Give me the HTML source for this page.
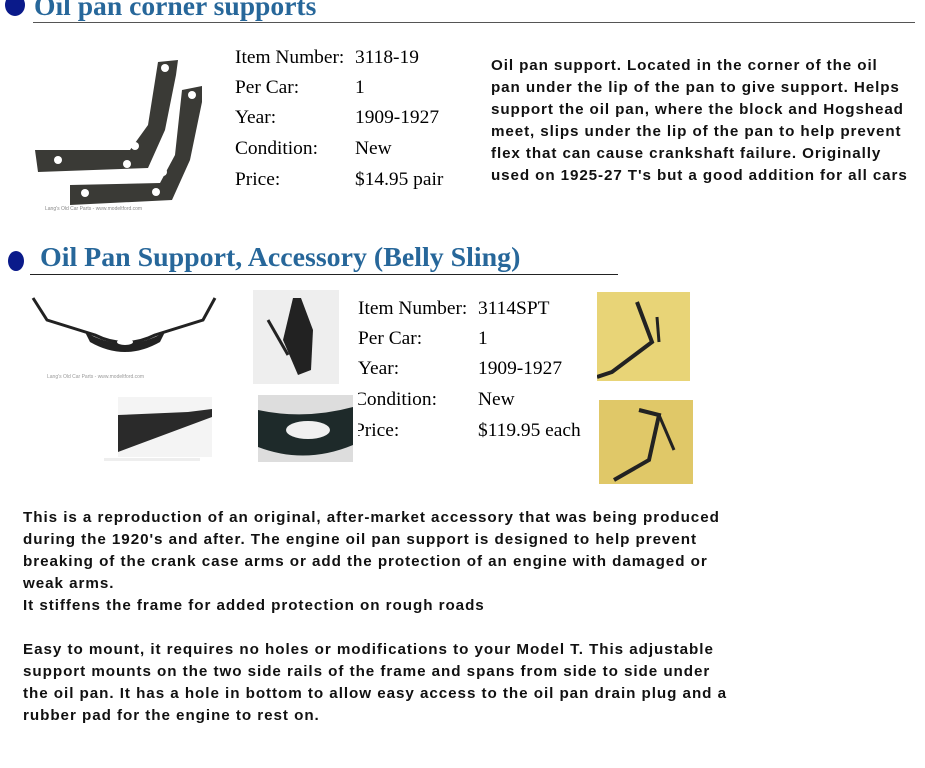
<!DOCTYPE html>
<html><head><meta charset="utf-8"><style>
body{margin:0;width:925px;height:768px;background:#fff;position:relative;overflow:hidden;font-family:"Liberation Sans",sans-serif}
.a{position:absolute;white-space:nowrap}
.t{font-family:"Liberation Serif",serif;font-weight:bold;color:#27679a}
.s{font-family:"Liberation Serif",serif;font-size:19.4px;color:#000}
.p{font-weight:bold;font-size:15.2px;letter-spacing:0.95px;line-height:22px;color:#111}
.dot{position:absolute;border-radius:50%;background:#0a1a8a}
</style></head><body>
<div class="dot" style="left:5px;top:-6px;width:20px;height:22px"></div>
<div class="a t" style="left:34px;top:-10px;font-size:27.6px">Oil pan corner supports</div>
<div class="a" style="left:33px;top:22px;width:882px;height:1px;background:#555"></div>

<svg class="a" style="left:30px;top:50px" width="185" height="165">
<path d="M5 100 L100 100 L118 75 L128 12 L148 10 L146 25 L135 80 L118 118 L8 122Z" fill="#3a3a36"/>
<path d="M40 135 L130 133 L145 105 L152 40 L172 36 L172 52 L160 110 L142 150 L40 155Z" fill="#3a3a36"/>
<circle cx="135" cy="18" r="4" fill="#fff"/><circle cx="162" cy="45" r="4" fill="#fff"/>
<circle cx="105" cy="96" r="4" fill="#fff"/><circle cx="97" cy="114" r="4" fill="#fff"/><circle cx="28" cy="110" r="4" fill="#fff"/>
<circle cx="133" cy="122" r="4" fill="#fff"/><circle cx="126" cy="142" r="4" fill="#fff"/><circle cx="55" cy="143" r="4" fill="#fff"/>
<text x="15" y="160" font-size="5" fill="#888" font-family="Liberation Sans">Lang's Old Car Parts - www.modeltford.com</text>
</svg>

<div class="a s" style="left:235px;top:47px">Item Number:</div><div class="a s" style="left:355px;top:47px">3118-19</div>
<div class="a s" style="left:235px;top:77px">Per Car:</div><div class="a s" style="left:355px;top:77px">1</div>
<div class="a s" style="left:235px;top:107px">Year:</div><div class="a s" style="left:355px;top:107px">1909-1927</div>
<div class="a s" style="left:235px;top:138px">Condition:</div><div class="a s" style="left:355px;top:138px">New</div>
<div class="a s" style="left:235px;top:169px">Price:</div><div class="a s" style="left:355px;top:169px">$14.95 pair</div>

<div class="a p" style="left:491px;top:55px;letter-spacing:0.9px">Oil pan support. Located in the corner of the oil<br>pan under the lip of the pan to give support. Helps<br>support the oil pan, where the block and Hogshead<br>meet, slips under the lip of the pan to help prevent<br>flex that can cause crankshaft failure. Originally<br>used on 1925-27 T's but a good addition for all cars</div>

<div class="dot" style="left:8px;top:251px;width:16px;height:20px"></div>
<div class="a t" style="left:40px;top:242px;font-size:27.9px">Oil Pan Support, Accessory (Belly Sling)</div>
<div class="a" style="left:30px;top:274px;width:588px;height:1px;background:#222"></div>

<svg class="a" style="left:25px;top:290px" width="200" height="95">
<path d="M8 8 L22 30 L70 45 Q100 60 130 45 L178 30 L190 8" stroke="#222" stroke-width="3" fill="none"/>
<path d="M60 42 Q100 65 140 42 L135 52 Q100 72 65 52Z" fill="#222"/>
<ellipse cx="100" cy="52" rx="8" ry="3" fill="#fff"/>
<text x="22" y="88" font-size="5" fill="#999" font-family="Liberation Sans">Lang's Old Car Parts - www.modeltford.com</text>
</svg>
<svg class="a" style="left:253px;top:290px" width="86" height="94"><rect width="86" height="94" fill="#eee"/>
<path d="M40 8 L30 50 L45 85 L58 80 L60 40 L48 8Z" fill="#222"/><path d="M15 30 L35 65" stroke="#222" stroke-width="3"/></svg>
<svg class="a" style="left:118px;top:397px" width="94" height="60"><rect width="94" height="60" fill="#f4f4f4"/>
<path d="M0 18 L70 15 L94 12 L94 20 L0 55Z" fill="#2a2a2a"/></svg>
<div class="a" style="left:104px;top:458px;width:96px;height:3px;background:#eee"></div>
<svg class="a" style="left:258px;top:395px" width="95" height="67"><rect width="95" height="67" fill="#ddd"/>
<path d="M0 15 Q47 25 95 12 L95 50 Q47 70 0 52Z" fill="#1e2a2a"/><ellipse cx="50" cy="35" rx="22" ry="9" fill="#f0f0f0"/></svg>
<svg class="a" style="left:597px;top:292px" width="93" height="89"><rect width="93" height="89" fill="#e8d477"/>
<path d="M40 10 L55 50 L15 80 L0 85" stroke="#222" stroke-width="4" fill="none"/><path d="M60 25 L62 50" stroke="#222" stroke-width="3"/></svg>
<svg class="a" style="left:599px;top:400px" width="94" height="84"><rect width="94" height="84" fill="#e0c868"/>
<path d="M40 10 L60 15 L50 60 L15 80" stroke="#222" stroke-width="4" fill="none"/><path d="M60 15 L75 50" stroke="#222" stroke-width="3"/></svg>

<div class="a s" style="left:358px;top:298px">Item Number:</div><div class="a s" style="left:478px;top:298px">3114SPT</div>
<div class="a s" style="left:358px;top:328px">Per Car:</div><div class="a s" style="left:478px;top:328px">1</div>
<div class="a s" style="left:358px;top:358px">Year:</div><div class="a s" style="left:478px;top:358px">1909-1927</div>
<div class="a s" style="left:358px;top:389px;overflow:hidden;width:90px;text-indent:-4px">Condition:</div><div class="a s" style="left:478px;top:389px">New</div>
<div class="a s" style="left:358px;top:420px;overflow:hidden;width:90px;text-indent:-4px">Price:</div><div class="a s" style="left:478px;top:420px">$119.95 each</div>

<div class="a p" style="left:23px;top:507px">This is a reproduction of an original, after-market accessory that was being produced<br>during the 1920's and after. The engine oil pan support is designed to help prevent<br>breaking of the crank case arms or add the protection of an engine with damaged or<br>weak arms.<br>It stiffens the frame for added protection on rough roads<br><br>Easy to mount, it requires no holes or modifications to your Model T. This adjustable<br>support mounts on the two side rails of the frame and spans from side to side under<br>the oil pan. It has a hole in bottom to allow easy access to the oil pan drain plug and a<br>rubber pad for the engine to rest on.</div>
</body></html>
